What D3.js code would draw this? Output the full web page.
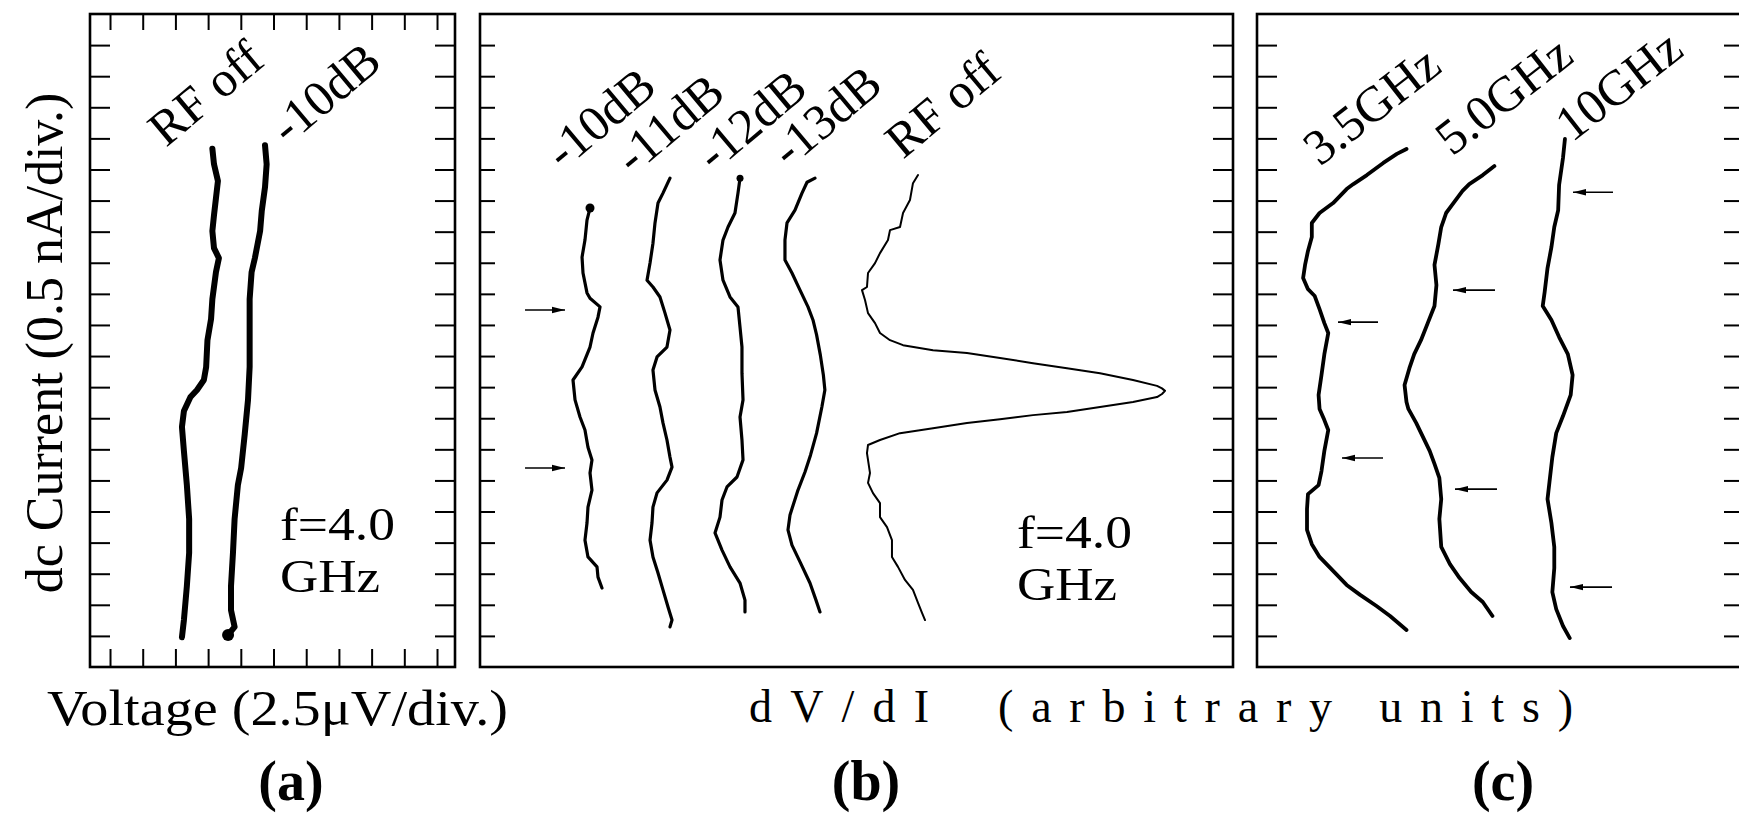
<!DOCTYPE html>
<html>
<head>
<meta charset="utf-8">
<script src="https://cdn.jsdelivr.net/npm/d3@7"></script>
<style>
  body { margin: 0; background: #fff; }
  text { font-family: "Liberation Serif", "Times New Roman", serif; fill: #000; }
</style>
</head>
<body>
<div id="chart"></div>
<script>
// ---- data: x in divisions / arbitrary units, y in current divisions (0.5 nA/div) ----
var aNames = ["RF off", "-10dB"];
var aRfOff = [[3.13,16.67],[3.18,16.17],[3.30,15.63],[3.24,15.08],[3.18,14.53],[3.13,14.02],[3.18,13.47],[3.33,13.15],[3.24,12.70],[3.13,11.83],[3.09,11.19],[2.98,10.51],[2.94,9.65],[2.87,9.23],[2.66,8.91],[2.46,8.68],[2.26,8.23],[2.20,7.72],[2.26,6.95],[2.35,5.85],[2.42,4.76],[2.42,3.67],[2.35,2.60],[2.26,1.51],[2.20,0.96]];
var aMinus10 = [[4.74,16.78],[4.79,16.17],[4.74,15.43],[4.64,14.66],[4.59,14.02],[4.43,13.15],[4.33,12.70],[4.27,11.83],[4.27,10.74],[4.27,9.65],[4.22,8.59],[4.12,7.49],[4.01,6.40],[3.91,5.85],[3.81,4.76],[3.76,3.67],[3.70,2.60],[3.70,1.83],[3.81,1.29],[3.61,1.03]];

var bNames = ["-10dB", "-11dB", "-12dB", "-13dB", "RF off"];
var bMinus10 = [[14.61,14.76],[14.21,14.37],[13.94,13.73],[13.55,13.18],[13.68,12.67],[14.21,12.03],[14.61,11.86],[15.94,11.58],[15.67,11.25],[15.01,10.74],[14.61,10.29],[13.55,9.65],[12.35,9.23],[12.62,8.59],[13.28,8.04],[13.94,7.62],[14.34,7.07],[14.87,6.66],[14.61,6.24],[14.87,5.69],[14.34,5.14],[14.21,4.63],[13.94,4.08],[14.34,3.54],[15.54,3.22],[15.67,2.89],[16.20,2.54]];
var bMinus11 = [[25.23,15.72],[24.30,15.24],[23.64,14.92],[23.24,14.28],[22.97,13.63],[22.58,12.99],[22.18,12.44],[22.97,12.22],[23.90,11.90],[24.57,11.38],[25.23,10.84],[24.83,10.29],[23.51,9.97],[22.97,9.55],[23.24,8.91],[23.90,8.36],[24.30,7.85],[24.83,7.30],[25.23,6.75],[25.50,6.43],[24.83,6.01],[23.51,5.60],[22.97,5.14],[22.84,4.63],[22.58,4.08],[22.97,3.54],[23.64,3.02],[24.30,2.48],[24.97,1.93],[25.50,1.51],[25.23,1.29]];
var bMinus12 = [[34.53,15.72],[34.26,15.24],[33.86,14.60],[32.94,14.15],[32.27,13.73],[31.87,13.09],[32.27,12.44],[33.20,11.90],[34.26,11.58],[34.53,10.93],[34.79,10.29],[34.79,9.45],[34.93,8.59],[34.53,8.04],[34.79,7.30],[34.93,6.66],[34.13,6.11],[32.80,5.79],[32.14,5.37],[31.87,4.82],[31.21,4.31],[32.14,3.76],[33.20,3.22],[34.53,2.70],[35.19,2.15],[35.19,1.77]];
var bMinus13 = [[44.49,15.72],[43.43,15.59],[42.76,15.24],[41.83,14.69],[40.77,14.28],[40.50,13.73],[40.50,13.09],[41.43,12.67],[42.50,12.12],[43.56,11.58],[44.22,11.16],[44.70,10.68],[45.20,10.03],[45.60,9.39],[45.80,8.91],[45.40,8.36],[44.70,7.52],[43.90,6.82],[43.16,6.27],[42.23,5.69],[41.17,4.89],[40.90,4.41],[41.43,3.92],[42.50,3.38],[43.82,2.70],[44.62,2.15],[45.15,1.77]];
var bRfOff = [[58.17,15.82],[57.50,15.56],[57.10,15.02],[56.18,14.60],[55.78,14.15],[54.45,14.05],[54.18,13.73],[53.12,13.31],[52.46,12.99],[51.53,12.67],[51.39,12.22],[50.73,12.12],[51.13,11.80],[51.53,11.38],[52.46,11.06],[53.12,10.74],[54.45,10.51],[56.18,10.35],[60.16,10.19],[64.67,10.10],[69.06,9.94],[73.44,9.77],[77.95,9.61],[82.34,9.45],[86.72,9.23],[89.91,9.04],[90.57,8.96],[90.97,8.88],[90.57,8.78],[89.91,8.68],[86.72,8.52],[82.34,8.36],[77.95,8.20],[73.44,8.10],[69.06,7.97],[64.67,7.85],[60.16,7.68],[55.78,7.52],[53.12,7.30],[51.53,7.14],[51.39,6.88],[51.79,6.24],[51.53,5.92],[52.19,5.59],[53.12,5.27],[53.12,4.82],[54.05,4.50],[54.71,4.08],[54.71,3.54],[55.51,3.22],[56.44,2.80],[57.50,2.48],[58.17,2.06],[58.70,1.74],[59.10,1.51]];
// arrows: [tail x, head x, y]
var bArrows = [[5.98,11.29,11.48],[5.98,11.29,6.40]];

var cNames = ["3.5GHz", "5.0GHz", "10GHz"];
var c35 = [[30.76,16.66],[28.78,16.50],[25.98,16.21],[22.61,15.82],[19.83,15.53],[18.44,15.37],[15.66,14.92],[12.87,14.60],[11.28,14.28],[11.28,13.83],[10.49,13.38],[9.89,12.93],[9.49,12.51],[10.49,12.15],[11.88,11.93],[12.87,11.51],[13.86,11.06],[14.66,10.74],[13.86,10.06],[13.27,9.39],[12.67,8.75],[12.87,8.30],[13.86,7.94],[14.66,7.62],[13.86,6.95],[13.27,6.30],[12.67,5.85],[10.49,5.56],[10.29,5.08],[10.29,4.41],[11.28,3.95],[12.87,3.54],[15.66,3.09],[18.44,2.64],[21.22,2.32],[24.59,1.96],[27.38,1.64],[30.76,1.19]];
var c50 = [[48.85,16.11],[46.46,15.82],[43.68,15.53],[42.29,15.31],[40.30,14.89],[38.91,14.60],[37.91,14.15],[37.32,13.60],[36.52,12.93],[36.92,12.28],[36.52,11.61],[35.13,11.06],[33.74,10.51],[32.35,10.06],[31.36,9.61],[30.36,9.07],[30.76,8.52],[31.15,8.30],[32.75,7.85],[34.14,7.40],[35.53,6.95],[36.52,6.53],[37.52,6.08],[37.91,5.40],[37.52,4.76],[37.91,3.86],[39.70,3.31],[41.69,2.86],[44.08,2.41],[46.46,2.09],[48.45,1.64]];
var c10 = [[63.36,16.98],[62.96,16.37],[62.16,15.50],[61.97,14.69],[61.17,14.15],[60.58,13.50],[59.78,12.83],[59.19,12.06],[58.79,11.61],[60.58,11.16],[62.16,10.61],[63.96,10.06],[64.94,9.39],[64.55,8.75],[62.96,8.07],[61.57,7.52],[60.77,6.75],[60.18,5.95],[59.78,5.40],[60.58,4.63],[61.17,3.86],[61.17,3.18],[60.77,2.41],[61.57,1.86],[62.96,1.32],[64.35,0.93]];
var cArrows = [[24.90,16.67,11.09],[25.93,17.49,6.72],[48.97,40.33,12.12],[49.38,40.74,5.72],[73.25,65.02,15.27],[73.05,64.40,2.57]];

var yTicks = d3.range(1, 21);
var aXTicks = d3.range(0, 11);
var panelTags = ["(a)", "(b)", "(c)"];
var fText = ["f=4.0", "GHz"];

// ---- layout ----
var width = 1739, height = 824;
var plotTop = 14, plotBottom = 667;

var svg = d3.select("#chart").append("svg")
  .attr("width", width)
  .attr("height", height);

var y = d3.scaleLinear().domain([0, 21]).range([plotBottom, plotTop]);
var xa = d3.scaleLinear().domain([-0.612, 10.55]).range([90, 455]);
var xb = d3.scaleLinear().domain([0, 100]).range([480, 1233]);
var xc = d3.scaleLinear().domain([0, 100]).range([1257, 1743]);

var defs = svg.append("defs");
defs.append("marker")
  .attr("id", "ah")
  .attr("viewBox", "0 -5 13 10")
  .attr("refX", 13).attr("refY", 0)
  .attr("markerWidth", 13).attr("markerHeight", 10)
  .attr("markerUnits", "userSpaceOnUse")
  .attr("orient", "auto")
  .append("path").attr("d", "M0,-3.2L13,0L0,3.2Z").attr("fill", "#000");

/* frames */
function frame(x0, x1) {
  svg.append("rect")
    .attr("x", x0).attr("y", plotTop)
    .attr("width", x1 - x0).attr("height", plotBottom - plotTop)
    .attr("fill", "none").attr("stroke", "#000").attr("stroke-width", 2.6);
}
frame(90, 455);
frame(480, 1233);
frame(1257, 1743);

/* ticks */
function ticks(axis, tx, ty) {
  svg.append("g")
    .attr("transform", `translate(${tx},${ty})`)
    .call(axis)
    .call(g => g.select(".domain").remove())
    .selectAll("line").attr("stroke", "#000").attr("stroke-width", 2);
}
ticks(d3.axisLeft(y).tickValues(yTicks).tickSize(-20).tickFormat(""), 90, 0);
ticks(d3.axisRight(y).tickValues(yTicks).tickSize(-20).tickFormat(""), 455, 0);
ticks(d3.axisTop(xa).tickValues(aXTicks).tickSize(-16).tickFormat(""), 0, plotTop);
ticks(d3.axisBottom(xa).tickValues(aXTicks).tickSize(-18).tickFormat(""), 0, plotBottom);
ticks(d3.axisLeft(y).tickValues(yTicks).tickSize(-15).tickFormat(""), 480, 0);
ticks(d3.axisRight(y).tickValues(yTicks).tickSize(-20).tickFormat(""), 1233, 0);
ticks(d3.axisLeft(y).tickValues(yTicks).tickSize(-20).tickFormat(""), 1257, 0);
ticks(d3.axisRight(y).tickValues(yTicks).tickSize(-19).tickFormat(""), 1743, 0);

/* curves */
function curve(xs, data, w) {
  var line = d3.line().x(d => xs(d[0])).y(d => y(d[1]));
  svg.append("path")
    .attr("d", line(data))
    .attr("fill", "none")
    .attr("stroke", "#000")
    .attr("stroke-width", w)
    .attr("stroke-linejoin", "round")
    .attr("stroke-linecap", "round");
}
function dot(xs, d, r) {
  svg.append("circle").attr("cx", xs(d[0])).attr("cy", y(d[1])).attr("r", r).attr("fill", "#000");
}

curve(xa, aRfOff, 6);
curve(xa, aMinus10, 6);
dot(xa, aMinus10[aMinus10.length - 1], 6);

[bMinus10, bMinus11, bMinus12, bMinus13].forEach(d => curve(xb, d, 3.2));
curve(xb, bRfOff, 2);
dot(xb, bMinus10[0], 4.5);
dot(xb, bMinus12[0], 3.5);

[c35, c50, c10].forEach(d => curve(xc, d, 3.8));

/* arrows */
function arrows(xs, list) {
  svg.append("g").selectAll("line")
    .data(list).enter()
    .append("line")
    .attr("x1", d => xs(d[0])).attr("x2", d => xs(d[1]))
    .attr("y1", d => y(d[2])).attr("y2", d => y(d[2]))
    .attr("stroke", "#000").attr("stroke-width", 1.6)
    .attr("marker-end", "url(#ah)");
}
arrows(xb, bArrows);
arrows(xc, cArrows);

/* curve labels (rotated) */
function tilted(txt, px, py, ang) {
  svg.append("text")
    .attr("transform", `translate(${px},${py}) rotate(${ang})`)
    .attr("font-size", 50)
    .text(txt);
}
var aLab = [[166, 148], [288, 146]];
aNames.forEach((t, i) => tilted(t, aLab[i][0], aLab[i][1], -40));
var bLab = [[563, 171], [633, 176], [714, 173], [789, 169], [903, 160]];
bNames.forEach((t, i) => tilted(t, bLab[i][0], bLab[i][1], -40));
var cLab = [[1320, 167], [1452, 157], [1572, 143]];
cNames.forEach((t, i) => tilted(t, cLab[i][0], cLab[i][1], -38));

/* f = 4.0 GHz notes */
function note(px, py) {
  svg.append("text").attr("x", px).attr("y", py).attr("font-size", 46)
    .attr("textLength", 115).attr("lengthAdjust", "spacingAndGlyphs").text(fText[0]);
  svg.append("text").attr("x", px).attr("y", py + 52).attr("font-size", 46)
    .attr("textLength", 100).attr("lengthAdjust", "spacingAndGlyphs").text(fText[1]);
}
note(280, 540);
note(1017, 548);

/* axis titles */
svg.append("text")
  .attr("transform", "translate(62,343) rotate(-90)")
  .attr("text-anchor", "middle")
  .attr("font-size", 52)
  .text("dc Current (0.5 nA/div.)");

svg.append("text")
  .attr("x", 47).attr("y", 725)
  .attr("font-size", 50)
  .attr("textLength", 461).attr("lengthAdjust", "spacingAndGlyphs")
  .text("Voltage (2.5\u03BCV/div.)");

svg.append("text")
  .attr("x", 749).attr("y", 722)
  .attr("font-size", 46)
  .attr("textLength", 180).attr("lengthAdjust", "spacing")
  .text("dV/dI");
svg.append("text")
  .attr("x", 998).attr("y", 722)
  .attr("font-size", 46)
  .attr("textLength", 575).attr("lengthAdjust", "spacing")
  .text("(arbitrary units)");

var tagX = [291, 866, 1503];
panelTags.forEach((t, i) => {
  svg.append("text")
    .attr("x", tagX[i]).attr("y", 800)
    .attr("text-anchor", "middle")
    .attr("font-size", 56)
    .attr("font-weight", "bold")
    .text(t);
});
</script>
</body>
</html>
